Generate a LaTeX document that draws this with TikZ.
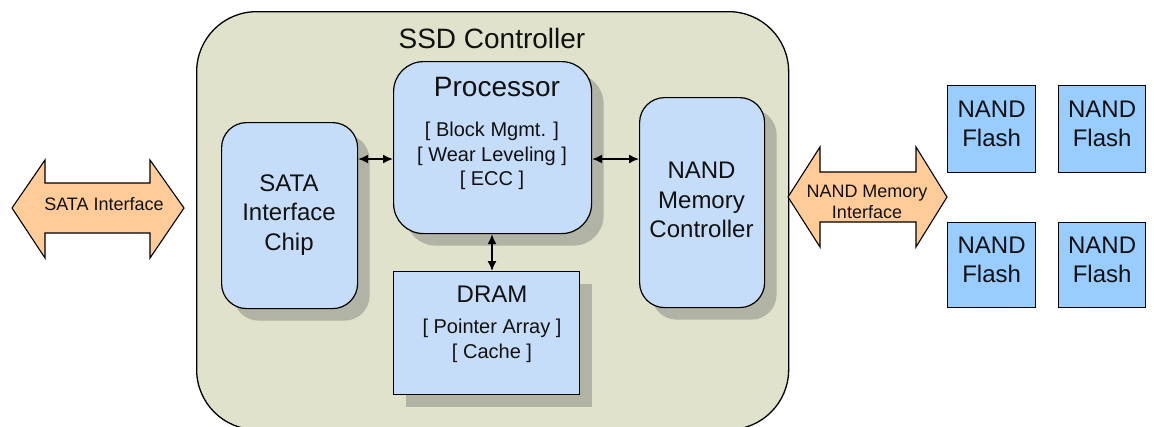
\documentclass[tikz,border=0pt]{standalone}
\usepackage{fontspec}
\setmainfont{Liberation Sans}
\usetikzlibrary{arrows.meta,shadows}
\definecolor{bigfill}{HTML}{E0E2CC}
\definecolor{shadowgray}{HTML}{B1B3A4}
\definecolor{boxfill}{HTML}{C5DDF9}
\definecolor{flashfill}{HTML}{99CCFF}
\definecolor{orangefill}{HTML}{FFCC99}
\definecolor{txt}{HTML}{111111}
\tikzset{
  container/.style={draw=black, line width=1.3pt, fill=bigfill, rounded corners=60pt, anchor=north west, inner sep=0pt},
  blockbox/.style={draw=black, line width=1.2pt, fill=boxfill, anchor=north west, inner sep=0pt,
    general shadow={fill=shadowgray, shadow xshift=12pt, shadow yshift=-12pt}},
  flashbox/.style={draw=black, line width=1.2pt, fill=flashfill, anchor=north west, inner sep=0pt},
  bigtext/.style={inner sep=0pt, align=center, text=txt, font=\fontsize{28}{33}\selectfont},
  midtext/.style={inner sep=0pt, align=center, text=txt, font=\fontsize{24}{29.5}\selectfont},
  smalltext/.style={inner sep=0pt, align=center, text=txt, font=\fontsize{20}{24.5}\selectfont},
  labeltext/.style={inner sep=0pt, align=center, text=txt, font=\fontsize{18}{21.5}\selectfont},
  fatarrow/.style={draw=black, line width=1.1pt, fill=orangefill, line join=miter},
  link/.style={line width=1.5pt, {Latex[length=10pt,width=9pt]}-{Latex[length=10pt,width=9pt]}}
}
\begin{document}
\begin{tikzpicture}[x=1pt,y=-1pt]
\useasboundingbox (0,0) rectangle (1154,426);
% container
\node[container, minimum width=592pt, minimum height=418pt] (ssd) at (196,11) {};
\node[bigtext] (ssdtitle) at (492,38) {SSD Controller};
% blocks
\node[blockbox, rounded corners=30pt, minimum width=198pt, minimum height=172pt] (proc) at (393,61) {};
\node[blockbox, rounded corners=25pt, minimum width=136pt, minimum height=186pt] (sata) at (221,122) {};
\node[blockbox, rounded corners=25pt, minimum width=125pt, minimum height=210pt] (nandc) at (639,97) {};
\node[blockbox, minimum width=186pt, minimum height=123pt] (dram) at (393,271) {};
% texts
\node[bigtext] (proctitle) at (497,87) {Processor};
\node[smalltext] (proclist) at (492,156) {{[} Block Mgmt. {]}\\{[} Wear Leveling {]}\\{[} ECC {]}};
\node[midtext] (satatext) at (289,215) {SATA\\Interface\\Chip};
\node[midtext] (nandctext) at (701.5,200) {NAND\\Memory\\Controller};
\node[midtext] (dramtitle) at (492,294) {DRAM};
\node[smalltext] (dramlist) at (492,341) {{[} Pointer Array {]}\\{[} Cache {]}};
% links
\coordinate (linky) at (0,159);
\draw[link] (sata.east |- linky) -- (proc.west |- linky);
\draw[link] (proc.east |- linky) -- (nandc.west |- linky);
\draw[link] (proc.south -| dramtitle) -- (dram.north -| dramtitle);
% SATA interface fat arrow
\draw[fatarrow] (12,208) -- (45,160) -- (45,183) -- (150,183) -- (150,160) -- (184,208)
  -- (150,258) -- (150,233) -- (45,233) -- (45,258) -- cycle;
\node[labeltext] (sataif) at (104,204) {SATA Interface};
% NAND memory interface fat arrow
\draw[fatarrow] (788,197) -- (820,147) -- (820,172) -- (916,172) -- (916,147) -- (947,197)
  -- (916,247) -- (916,222) -- (820,222) -- (820,247) -- cycle;
\node[labeltext] (nandif) at (867,202) {NAND Memory\\Interface};
% NAND flash chips
\node[flashbox, minimum width=88pt, minimum height=87pt] (f1) at (947,85) {};
\node[flashbox, minimum width=87pt, minimum height=87pt] (f2) at (1058,85) {};
\node[flashbox, minimum width=88pt, minimum height=85pt] (f3) at (947,222) {};
\node[flashbox, minimum width=87pt, minimum height=85pt] (f4) at (1058,222) {};
\node[midtext, yshift=5pt] at (f1) {NAND\\Flash};
\node[midtext, yshift=5pt] at (f2) {NAND\\Flash};
\node[midtext, yshift=5pt] at (f3) {NAND\\Flash};
\node[midtext, yshift=5pt] at (f4) {NAND\\Flash};
\end{tikzpicture}
\end{document}
